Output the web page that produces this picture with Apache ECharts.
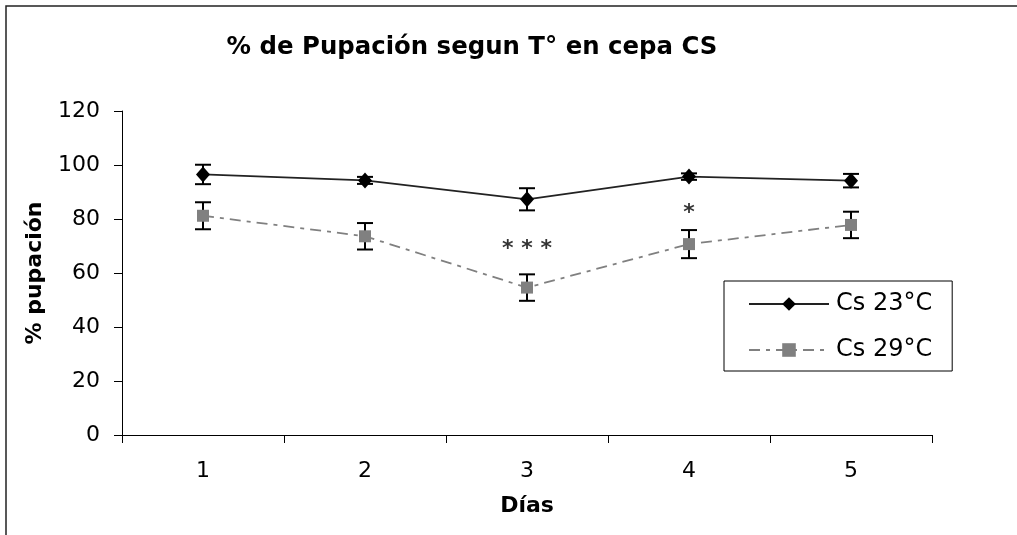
<!DOCTYPE html>
<html>
<head>
<meta charset="utf-8">
<script src="https://cdn.jsdelivr.net/npm/echarts@6/dist/echarts.min.js"></script>
<style>
  html, body { margin: 0; padding: 0; background: #fff; }
  #chart { width: 1017px; height: 535px; }
</style>
</head>
<body>
<div id="chart"></div>
<script>
// Pupation percentage per day for strain CS at two rearing temperatures
const days = ['1', '2', '3', '4', '5'];
const yTicks = [0, 20, 40, 60, 80, 100, 120];

const cs23Mean = [96.5, 94.3, 87.3, 95.7, 94.2];
const cs23Err  = [3.6, 1.3, 4.1, 1.2, 2.5];

const cs29Mean = [81.2, 73.6, 54.6, 70.7, 77.8];
const cs29Err  = [5.0, 4.9, 4.9, 5.2, 4.9];

// significance marks placed above the 29 °C points
const sigText = ['', '', '* * *', '*', ''];
const sigY    = [null, null, 68.6, 82.3, null];

const FONT = 'DejaVu Sans, Verdana, sans-serif';

function errorData(means, errs) {
  return means.map((m, i) => [i, m - errs[i], m + errs[i]]);
}

function renderErrorBar(params, api) {
  const x = api.value(0);
  const lo = api.coord([x, api.value(1)]);
  const hi = api.coord([x, api.value(2)]);
  const half = 8;
  const style = { stroke: '#000', lineWidth: 2 };
  return {
    type: 'group',
    children: [
      { type: 'line', shape: { x1: hi[0], y1: hi[1], x2: lo[0], y2: lo[1] }, style },
      { type: 'line', shape: { x1: hi[0] - half, y1: hi[1], x2: hi[0] + half, y2: hi[1] }, style },
      { type: 'line', shape: { x1: lo[0] - half, y1: lo[1], x2: lo[0] + half, y2: lo[1] }, style }
    ]
  };
}

const chart = echarts.init(document.getElementById('chart'), null, { renderer: 'canvas' });

chart.setOption({
  backgroundColor: '#fff',
  animation: false,
  title: {
    text: '% de Pupación segun T° en cepa CS',
    left: 467,
    top: 31,
    textAlign: 'center',
    textStyle: { fontFamily: FONT, fontSize: 24.4, fontWeight: 'bold', color: '#000' }
  },
  graphic: [{
    type: 'rect',
    shape: { x: 6, y: 6, width: 1100, height: 600 },
    style: { fill: 'none', stroke: '#222', lineWidth: 1.5 },
    silent: true
  }],
  legend: {
    orient: 'vertical',
    left: 724,
    top: 281,
    padding: [11, 20, 9, 24],
    itemWidth: 80,
    itemHeight: 17,
    itemGap: 22,
    borderColor: '#000',
    borderWidth: 1,
    textStyle: { fontFamily: FONT, fontSize: 24, color: '#000', padding: [0, 0, 0, 2] },
    data: ['Cs 23°C', 'Cs 29°C']
  },
  grid: { left: 122, right: 85, top: 111, bottom: 100 },
  xAxis: {
    type: 'category',
    data: days,
    boundaryGap: true,
    name: 'Días',
    nameLocation: 'middle',
    nameGap: 60,
    nameTextStyle: { fontFamily: FONT, fontSize: 22, fontWeight: 'bold', color: '#000' },
    axisLine: { lineStyle: { color: '#000', width: 1 } },
    axisTick: { show: true, length: 8, lineStyle: { color: '#000' } },
    axisLabel: { fontFamily: FONT, fontSize: 22, color: '#000', margin: 25 },
    splitLine: { show: false }
  },
  yAxis: {
    type: 'value',
    min: yTicks[0],
    max: yTicks[yTicks.length - 1],
    interval: yTicks[1] - yTicks[0],
    name: '% pupación',
    nameLocation: 'middle',
    nameGap: 76,
    nameTextStyle: { fontFamily: FONT, fontSize: 22, fontWeight: 'bold', color: '#000' },
    axisLine: { show: true, lineStyle: { color: '#000', width: 1 } },
    axisTick: { show: true, length: 8, lineStyle: { color: '#000' } },
    axisLabel: { fontFamily: FONT, fontSize: 22, color: '#000', margin: 22 },
    splitLine: { show: false }
  },
  series: [
    {
      type: 'custom',
      name: 'err23',
      renderItem: renderErrorBar,
      data: errorData(cs23Mean, cs23Err),
      z: 1,
      silent: true
    },
    {
      type: 'custom',
      name: 'err29',
      renderItem: renderErrorBar,
      data: errorData(cs29Mean, cs29Err),
      z: 1,
      silent: true
    },
    {
      name: 'Cs 23°C',
      type: 'line',
      data: cs23Mean,
      symbol: 'diamond',
      symbolSize: [14, 16],
      itemStyle: { color: '#000' },
      lineStyle: { color: '#222', width: 1.8, type: 'solid' },
      z: 3
    },
    {
      name: 'Cs 29°C',
      type: 'line',
      data: cs29Mean,
      symbol: 'rect',
      symbolSize: 12,
      itemStyle: { color: '#808080' },
      lineStyle: { color: '#808080', width: 1.8, type: [11, 6, 4, 6] },
      z: 3
    },
    {
      type: 'scatter',
      name: 'sig',
      data: sigY.map((v, i) => (v === null ? null : [i, v])),
      symbolSize: 0,
      silent: true,
      label: {
        show: true,
        position: 'inside',
        formatter: p => sigText[p.dataIndex],
        fontFamily: FONT,
        fontSize: 22,
        fontWeight: 'bold',
        color: '#000'
      },
      z: 4
    }
  ]
});
</script>
</body>
</html>
